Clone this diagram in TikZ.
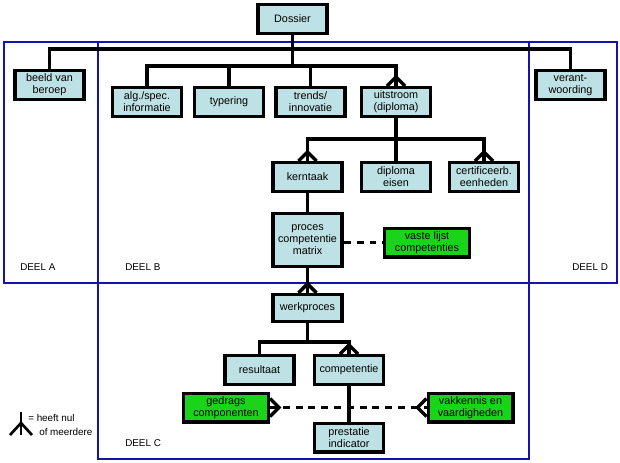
\documentclass[tikz,border=0pt]{standalone}
\usepackage{fontspec}
\setmainfont{Liberation Sans}
\usepackage{xcolor}
\definecolor{boxblue}{RGB}{190,225,229}
\definecolor{boxgreen}{RGB}{26,212,26}
\definecolor{deelblue}{RGB}{20,20,170}

\begin{document}
\begin{tikzpicture}[
    x=0.75pt, y=-0.75pt,
    box/.style={rectangle, draw=black, line width=2.6pt, fill=boxblue,
                minimum width=52pt, minimum height=21.4pt, inner sep=1pt,
                align=center, font=\fontsize{8.1}{9}\selectfont},
    greenbox/.style={box, fill=boxgreen, minimum width=63.4pt},
    conn/.style={line width=2.6pt},
    dashconn/.style={conn, dash pattern=on 5.2pt off 4.4pt},
    deelline/.style={draw=deelblue, line width=0.8pt},
    deel/.style={anchor=west, inner sep=0pt, font=\fontsize{7.4}{9}\selectfont},
    crow/.pic={\draw[conn] (-9,0) -- (0,-9) -- (9,0);}
]
\useasboundingbox (0,0) rectangle (620,462);

% Deel frames
\draw[deelline] (4,42) rectangle (617,283);
\draw[deelline] (98,42) rectangle (529,459);
\node[deel] (deela) at (20,267) {DEEL A};
\node[deel] (deelb) at (125,267) {DEEL B};
\node[deel] (deeld) at (572,267) {DEEL D};
\node[deel] (deelc) at (125,443) {DEEL C};

% Dossier level
\node[box] (dossier) at (292.5,19) {Dossier};
\node[box] (beeld) at (49.5,85) {beeld van\\beroep};
\node[box] (verant) at (570.5,85) {verant-\\woording};
\node[box] (alg) at (147,102) {alg./spec.\\informatie};
\node[box] (typering) at (229,102) {typering};
\node[box] (trends) at (310.5,102) {trends/\\innovatie};
\node[box] (uitstroom) at (396,102) {uitstroom\\(diploma)};

% Uitstroom level
\node[box] (kerntaak) at (307.5,177) {kerntaak};
\node[box] (diploma) at (396,177) {diploma\\eisen};
\node[box] (certif) at (484,177) {certificeerb.\\eenheden};
\node[box, minimum height=39.4pt] (proces) at (307.5,240) {proces\\competentie\\matrix};
\node[greenbox] (vaste) at (427,242.5) {vaste lijst\\competenties};

% Deel C
\node[box, minimum height=20pt] (werkproces) at (307.5,308) {werkproces};
\node[box] (resultaat) at (259.5,370) {resultaat};
\node[box] (competentie) at (349,370) {competentie};
\node[greenbox] (gedrags) at (226,407.5) {gedrags\\componenten};
\node[greenbox] (vakkennis) at (470.5,407.5) {vakkennis en\\vaardigheden};
\node[box] (prestatie) at (349,437.5) {prestatie\\indicator};

% Tree lines
\coordinate (bus1) at (292.5,49);
\coordinate (bus2) at (292.5,66);
\draw[conn] (dossier) -- (bus2);
\draw[conn] (beeld.north) |- (bus1) -| (verant.north);
\draw[conn] (alg.north) |- (bus2) -| (uitstroom.north);
\draw[conn] (typering) -- (typering |- bus2);
\draw[conn] (trends) -- (trends |- bus2);
\pic at (uitstroom.north) {crow};

\coordinate (bus3) at (396,139);
\draw[conn] (uitstroom) -- (bus3);
\draw[conn] (kerntaak.north) |- (bus3) -| (certif.north);
\draw[conn] (diploma) -- (bus3);
\pic at (kerntaak.north) {crow};
\pic at (certif.north) {crow};

\draw[conn] (kerntaak) -- (proces);
\draw[dashconn] (proces.east |- vaste) -- (vaste);
\draw[conn] (proces) -- (werkproces);
\pic at (werkproces.north) {crow};

\coordinate (bus4) at (307.5,342);
\draw[conn] (werkproces) -- (bus4);
\draw[conn] (resultaat.north) |- (bus4) -| (competentie.north);
\pic at (competentie.north) {crow};
\draw[conn] (competentie) -- (prestatie);
\draw[dashconn] (gedrags) -- (vakkennis);
\pic[rotate=-90] at (gedrags.east) {crow};
\pic[rotate=90] at (vakkennis.west) {crow};

% Legend
\coordinate (legtop) at (21,412);
\coordinate (legfoot) at (21,435);
\draw[line width=2pt] (legtop) -- (legfoot);
\draw[line width=2pt] (10,435) -- (21,423) -- (32,435);
\node[deel] (leg1) at (28,418) {= heeft nul};
\node[deel] (leg2) at (39,432) {of meerdere};
\end{tikzpicture}
\end{document}
